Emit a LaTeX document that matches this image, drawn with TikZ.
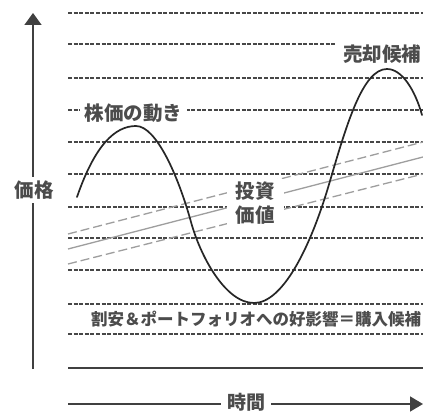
\documentclass[tikz,border=0pt]{standalone}
\usepackage{fontspec}
\newfontfamily\jp{Noto Sans CJK JP}
\usetikzlibrary{arrows.meta}
\begin{document}
\begin{tikzpicture}[x=1pt,y=-1pt,
  grid/.style={black!72,line width=1.1pt,dash pattern=on 4pt off 1.6pt},
  valsolid/.style={black!38,line width=1.3pt},
  valdash/.style={black!38,line width=1.3pt,dash pattern=on 9pt off 4pt},
  lbl/.style={font=\jp\bfseries\fontsize{19.5}{24}\selectfont,text=black!70,inner sep=0pt},
  curve/.style={black!85,line width=1.7pt,line cap=round},
  axis/.style={black!75,line width=1.6pt}]
\useasboundingbox (0,0) rectangle (423,412);
\fill[white] (0,0) rectangle (423,412);
% horizontal guide lines
\foreach \yy in {13,78,110,142,174,207,238,270,304,334}
  \draw[grid] (68,\yy) -- (423,\yy);
\draw[grid] (68,44) -- (335,44);
% investment value band
\coordinate (ua) at (68,234); \coordinate (ub) at (423,142);
\coordinate (sa) at (68,249); \coordinate (sb) at (423,157);
\coordinate (la) at (68,264); \coordinate (lb) at (423,174);
\draw[valdash] (ua) -- (ub);
\draw[valsolid] (sa) -- (sb);
\draw[valdash] (la) -- (lb);
% labels
\node[lbl,fill=white,inner xsep=5pt,inner ysep=1pt] (move) at (133.5,113.5) {株価の動き};
\node[lbl,fill=white,align=center,inner xsep=9pt,inner ysep=3pt] (value) at (255,203) {投資\\価値};
\node[lbl,anchor=west] (sell) at (343,54) {売却候補};
\node[lbl,anchor=west,font=\jp\bfseries\fontsize{16.5}{18}\selectfont] (buy) at (91,319.5) {割安＆ポートフォリオへの好影響＝購入候補};
% stock price curve
\coordinate (c0) at (77,197);
\coordinate (p1) at (136,126);
\coordinate (i1) at (191,222);
\coordinate (tr) at (254,303);
\coordinate (i2) at (330,181);
\coordinate (p2) at (387,69);
\coordinate (c1) at (422,115);
\draw[curve] (c0) .. controls (95,145) and (115,126) .. (p1)
  .. controls (156,126) and (178,175) .. (i1)
  .. controls (200,255) and (225,303) .. (tr)
  .. controls (282,303) and (310,250) .. (i2)
  .. controls (347,123) and (363,69) .. (p2)
  .. controls (402,69) and (415,90) .. (c1);
% axes
\coordinate (y0) at (33,369); \coordinate (y1) at (33,13);
\draw[axis,-{Triangle[width=17pt,length=12pt]}] (y0) -- (y1);
\node[lbl,fill=white,inner xsep=1pt,inner ysep=4pt] (price) at (34,190) {価格};
\coordinate (base0) at (68,368); \coordinate (base1) at (423,368);
\draw[axis] (base0) -- (base1);
\coordinate (t0) at (68,404); \coordinate (t1) at (423,404);
\draw[axis,-{Triangle[width=15pt,length=13pt]}] (t0) -- (t1);
\node[lbl,fill=white,inner xsep=6pt,inner ysep=0pt,font=\jp\bfseries\fontsize{19}{20}\selectfont] (time) at (246,402.5) {時間};
\end{tikzpicture}
\end{document}
